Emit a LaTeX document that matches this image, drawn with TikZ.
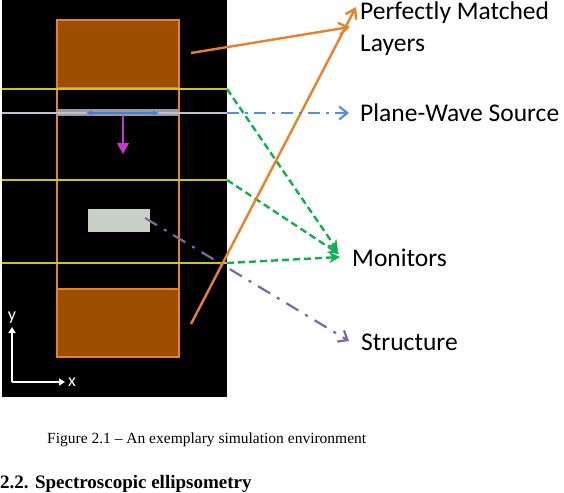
\documentclass[tikz,border=0pt]{standalone}
\usepackage{fontspec}
\setmainfont{Liberation Serif}
\newfontfamily\calfont{Carlito}
\usetikzlibrary{arrows.meta}

\definecolor{pmlorange}{HTML}{E8822A}
\definecolor{pmlfill}{HTML}{9C4F00}
\definecolor{monyellow}{HTML}{C8C820}
\definecolor{srcgray}{HTML}{9A9AA4}
\definecolor{srcline}{HTML}{C0C0D0}
\definecolor{srcblue}{HTML}{4A7FD0}
\definecolor{arrblue}{HTML}{5B8FD8}
\definecolor{arrgreen}{HTML}{10B050}
\definecolor{arrpurple}{HTML}{8064A8}
\definecolor{structgray}{HTML}{C8D0C8}
\definecolor{wavepink}{HTML}{C838C8}

\tikzset{
  calout/.style={font=\calfont\fontsize{25.5}{32}\selectfont, anchor=west, inner sep=0pt, align=left},
  pmlarrow/.style={pmlorange, line width=2.4pt, -{Straight Barb[length=9pt,width=12pt]}},
  monarrow/.style={arrgreen, line width=2.4pt, dash pattern=on 7pt off 4pt, -{Stealth[length=11pt,width=11pt]}},
  srcarrow/.style={arrblue, line width=2.2pt, dash pattern=on 12pt off 6pt on 3pt off 6pt, -{Straight Barb[length=8pt,width=13pt]}},
  structarrow/.style={arrpurple, line width=2.2pt, dash pattern=on 14pt off 8pt on 3pt off 8pt, -{Straight Barb[length=8pt,width=13pt]}}
}

\begin{document}
\begin{tikzpicture}[x=1pt, y=-1pt]
    \useasboundingbox (0,0) rectangle (564,492);

    % Simulation window
    \fill[black] (2,0) rectangle (227,397);

    % PML blocks and simulation region
    \fill[pmlfill] (57,20) rectangle (179,88);
    \fill[pmlfill] (57,289) rectangle (179,357);
    \draw[pmlorange, line width=2pt] (57,20) rectangle (179,357);
    \draw[pmlorange, line width=1.5pt] (57,88) -- (179,88);
    \draw[pmlorange, line width=1.5pt] (57,289) -- (179,289);

    % Monitors
    \foreach \y [count=\i] in {89,180,263} {
      \draw[monyellow, line width=1.2pt] (2,\y) -- (227,\y);
      \coordinate (mon\i) at (227,\y);
    }

    % Source
    \fill[srcgray] (57,109) rectangle (179,116);
    \draw[srcline, line width=1.2pt] (2,113) -- (227,113);
    \coordinate (srcedge) at (227,113);
    \draw[srcblue, line width=2pt, {Latex[length=7pt]}-{Latex[length=7pt]}] (85,113) -- (160,113);
    \draw[wavepink, line width=1.5pt, -{Triangle[length=11pt,width=12pt]}] (123,115) -- (123,154);

    % Structure
    \node[fill=structgray, minimum width=62pt, minimum height=23pt, inner sep=0pt] (struct) at (119,220.5) {};
    \coordinate (structend) at (145,218);

    % Axes
    \draw[white, line width=1.6pt, -{Triangle[length=6pt,width=7pt]}] (12,382) -- (12,327) node[above=-1pt, font=\calfont\fontsize{18}{18}\selectfont] (yaxis) {y};
    \draw[white, line width=1.6pt, -{Triangle[length=6pt,width=7pt]}] (12,382) -- (65,382) node[right=-1pt, font=\calfont\fontsize{18}{18}\selectfont] (xaxis) {x};

    % Labels
    \node[calout, anchor=north west] (pml) at (360,2) {Perfectly Matched\\Layers};
    \node[calout] (src) at (360,113) {Plane-Wave Source};
    \node[calout] (mon) at (352,258) {Monitors};
    \node[calout] (struc) at (361,342) {Structure};

    % Arrow tips
    \coordinate (pmltipa) at (350,27);
    \coordinate (pmltipb) at (356,7);
    \coordinate (srctip) at (349,113);
    \coordinate (montipa) at (338,251);
    \coordinate (montipb) at (339,254);
    \coordinate (montipc) at (340,257);
    \coordinate (structip) at (349,341);

    % Pointers
    \draw[monarrow] (mon1) -- (montipa);
    \draw[monarrow] (mon2) -- (montipb);
    \draw[monarrow] (mon3) -- (montipc);
    \draw[structarrow] (structend) -- (structip);
    \draw[pmlarrow] (191,53) -- (pmltipa);
    \draw[pmlarrow] (191,324) -- (pmltipb);
    \draw[srcarrow] (srcedge) -- (srctip);

    % Caption and heading
    \node[anchor=base west, inner sep=0pt, font=\fontsize{15.5}{18}\selectfont] (caption) at (47,443) {Figure 2.1 -- An exemplary simulation environment};
    \node[anchor=base west, inner sep=0pt, font=\bfseries\fontsize{19}{21}\selectfont] (heading) at (0,488) {2.2. Spectroscopic ellipsometry};
\end{tikzpicture}
\end{document}
